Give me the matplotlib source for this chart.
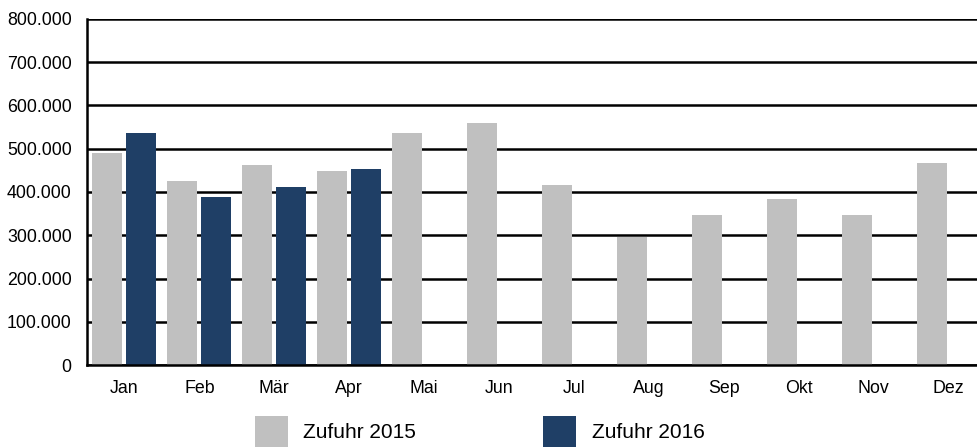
import matplotlib
matplotlib.use("Agg")
import matplotlib.pyplot as plt
from matplotlib.patches import Rectangle
import numpy as np

months = ["Jan", "Feb", "Mär", "Apr", "Mai", "Jun", "Jul", "Aug", "Sep", "Okt", "Nov", "Dez"]
zufuhr_2015 = [490000, 425000, 462000, 448000, 536000, 559000, 416000, 296000, 347000, 384000, 347000, 467000]
zufuhr_2016 = [536000, 388000, 411000, 453000]
yticks = [0, 100000, 200000, 300000, 400000, 500000, 600000, 700000, 800000]
ytick_labels = ["0", "100.000", "200.000", "300.000", "400.000", "500.000", "600.000", "700.000", "800.000"]
series_names = ["Zufuhr 2015", "Zufuhr 2016"]

GRAY = "#C0C0C0"
NAVY = "#1F3F66"

plt.rcParams["font.family"] = ["Liberation Sans", "DejaVu Sans"]

W, H = 978, 447
fig = plt.figure(figsize=(W / 100, H / 100), dpi=100)
ax = fig.add_axes([87 / W, (H - 365) / H, 899 / W, 346 / H])

x = np.arange(len(months))
bw = 0.40
off = 0.227
ax.bar(x - off, zufuhr_2015, width=bw, color=GRAY, zorder=3)
ax.bar(x[:len(zufuhr_2016)] + off, zufuhr_2016, width=bw, color=NAVY, zorder=3)

ax.set_xlim(-0.5, len(months) - 0.5)
ax.set_ylim(0, 800000)
ax.set_yticks(yticks)
ax.set_yticklabels(ytick_labels, fontsize=12.8)
ax.set_xticks(x)
ax.set_xticklabels(months, fontsize=12.8)
ax.tick_params(axis="y", length=0, pad=11)
ax.tick_params(axis="x", length=0, pad=11)
ax.yaxis.grid(True, color="black", linewidth=1.8, zorder=1)
ax.set_axisbelow(True)
for s in ["top", "right"]:
    ax.spines[s].set_visible(False)
ax.spines["left"].set_linewidth(1.8)
ax.spines["bottom"].set_linewidth(1.8)
ax.spines["left"].set_zorder(4)
ax.spines["bottom"].set_zorder(4)

# legend
def px(xp, yp):
    return xp / W, 1 - yp / H

for (sx, tx, col, name) in [(255, 303, GRAY, series_names[0]), (543, 592, NAVY, series_names[1])]:
    x0, y0 = px(sx, 447)
    fig.add_artist(Rectangle((x0, y0), 33 / W, 31 / H, transform=fig.transFigure,
                             facecolor=col, edgecolor="none"))
    tx0, ty0 = px(tx, 432)
    fig.text(tx0, ty0, name, fontsize=15, va="center", ha="left")

fig.savefig("out.png", dpi=100)
